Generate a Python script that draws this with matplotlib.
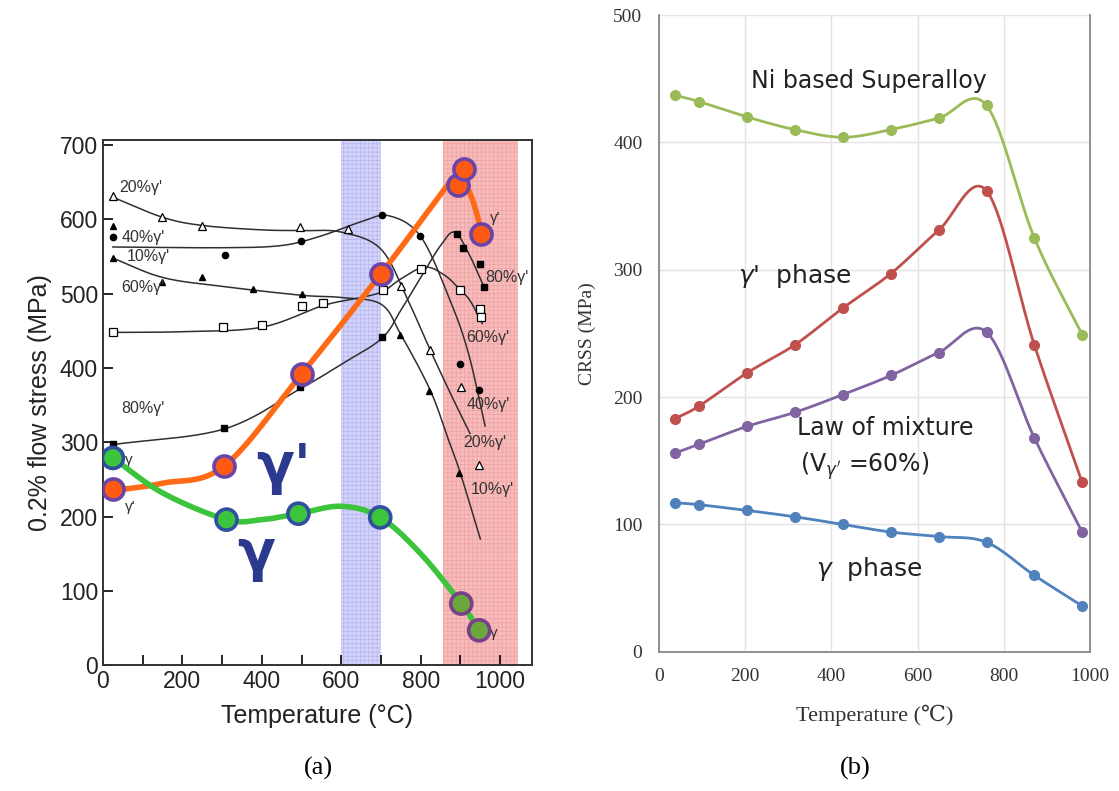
import numpy as np
import matplotlib.pyplot as plt

# ---------- (a) flow stress of gamma/gamma' alloys ----------
# fitted trend lines (knots)
c10_x = [25, 150, 300, 500, 600, 700, 750, 824, 870, 900, 950]
c10_y = [548, 522, 510, 498, 495, 486, 445, 370, 303, 258, 170]
c20_x = [25, 150, 250, 400, 500, 600, 700, 768, 824, 880, 924]
c20_y = [630, 603, 592, 586, 585, 583, 560, 491, 424, 360, 312]
c40_x = [25, 300, 450, 550, 650, 720, 800, 874, 920, 962]
c40_y = [563, 562, 565, 578, 597, 605, 577, 491, 420, 322]
c60_x = [25, 200, 400, 553, 650, 704, 750, 810, 860, 900, 925, 955]
c60_y = [448, 449, 455, 484, 495, 503, 520, 536, 525, 505, 490, 460]
c80_x = [25, 305, 496, 600, 702, 750, 800, 850, 885, 920, 957]
c80_y = [297, 318, 372, 405, 440, 478, 522, 565, 583, 555, 512]

# measured points
p10_x = [25, 25, 148, 250, 377, 501, 748, 822, 897]
p10_y = [591, 548, 516, 523, 507, 500, 444, 369, 259]
p20_x = [25, 149, 249, 496, 617, 751, 824, 902, 947]
p20_y = [632, 603, 591, 590, 587, 511, 424, 374, 269]
p40_x = [25, 307, 499, 702, 798, 898, 947]
p40_y = [577, 552, 571, 606, 578, 406, 370]
p60_x = [25, 303, 401, 500, 553, 704, 801, 899, 948, 951]
p60_y = [448, 455, 458, 483, 487, 505, 533, 505, 479, 469]
p80_x = [25, 305, 496, 702, 891, 906, 950, 960]
p80_y = [298, 319, 374, 442, 580, 561, 540, 509]

# gamma' (orange) and gamma (green) phases
gp_x = [25, 305, 500, 700, 893, 909, 952]
gp_y = [237, 268, 392, 527, 646, 668, 580]
gp_line_x = [25, 150, 305, 500, 700, 820, 880, 915, 940, 952]
gp_line_y = [235, 245, 268, 392, 527, 612, 652, 644, 610, 580]
g_x = [25, 311, 492, 698, 902, 947]
g_y = [279, 196, 204, 199, 83, 47]
g_line_x = [25, 150, 311, 400, 492, 600, 698, 800, 902, 947]
g_line_y = [279, 232, 196, 196, 204, 214, 199, 150, 83, 47]

# ---------- (b) CRSS ----------
temp_b = [37, 93, 204, 315, 427, 538, 649, 760, 871, 982]
alloy = [437, 432, 420, 410, 404, 410, 419, 429, 325, 249]
gprime = [183, 193, 219, 241, 270, 297, 331, 362, 241, 133]
mixture = [156, 163, 177, 188, 202, 217, 235, 251, 168, 94]
gamma = [117, 115.5, 111, 106, 100, 94, 90.5, 86, 60, 36]


def smooth(xs, ys, n=40):
    # Catmull-Rom style bezier through the knots (like Excel smoothed lines)
    x = np.asarray(xs, float)
    y = np.asarray(ys, float)
    px = np.concatenate([[2 * x[0] - x[1]], x, [2 * x[-1] - x[-2]]])
    py = np.concatenate([[2 * y[0] - y[1]], y, [2 * y[-1] - y[-2]]])
    t = np.linspace(0, 1, n)[:, None]
    out = []
    for i in range(1, len(px) - 2):
        p0 = np.array([px[i - 1], py[i - 1]])
        p1 = np.array([px[i], py[i]])
        p2 = np.array([px[i + 1], py[i + 1]])
        p3 = np.array([px[i + 2], py[i + 2]])
        c1 = p1 + (p2 - p0) / 6
        c2 = p2 - (p3 - p1) / 6
        seg = ((1 - t) ** 3) * p1 + 3 * ((1 - t) ** 2) * t * c1 + 3 * (1 - t) * t ** 2 * c2 + t ** 3 * p2
        out.append(seg)
    out = np.vstack(out)
    return out[:, 0], out[:, 1]


plt.rcParams['hatch.linewidth'] = 0.6
fig = plt.figure(figsize=(11.19, 7.91), dpi=100)

# ================= left panel =================
ax = fig.add_axes([0.092, 0.159, 0.3834, 0.664])
sans = ['Liberation Sans', 'DejaVu Sans']

ax.axvspan(600, 700, facecolor='#d4d4fa', edgecolor='#b9b9f2', hatch='++++', lw=0, zorder=0)
ax.axvspan(855, 1045, facecolor='#f8bcbc', edgecolor='#efa5a5', hatch='++++', lw=0, zorder=0)

lc = '#2f2f2f'
for cx, cy in [(c10_x, c10_y), (c20_x, c20_y), (c40_x, c40_y), (c60_x, c60_y), (c80_x, c80_y)]:
    sx, sy = smooth(cx, cy)
    ax.plot(sx, sy, color=lc, lw=1.1, zorder=2)

ax.plot(p10_x, p10_y, '^', color='k', ms=4.5, ls='none', zorder=3)
ax.plot(p20_x, p20_y, '^', mfc='white', mec='k', ms=5.5, mew=0.9, ls='none', zorder=3)
ax.plot(p40_x, p40_y, 'o', color='k', ms=4.5, ls='none', zorder=3)
ax.plot(p60_x, p60_y, 's', mfc='white', mec='k', ms=5.5, mew=0.9, ls='none', zorder=3)
ax.plot(p80_x, p80_y, 's', color='k', ms=4.5, ls='none', zorder=3)

sx, sy = smooth(gp_line_x, gp_line_y)
ax.plot(sx, sy, color='#ff6a16', lw=4, zorder=4, solid_capstyle='round')
sx, sy = smooth(g_line_x, g_line_y)
ax.plot(sx, sy, color='#3cc43c', lw=4, zorder=4, solid_capstyle='round')

ax.scatter(gp_x, gp_y, s=230, c='#ff5a14', edgecolors='#6a44a8', linewidths=2.6, zorder=5)
g_edges = ['#2f4fa0'] * 4 + ['#7a3f8a'] * 2
g_faces = ['#3cc43c'] * 4 + ['#6aa83c'] * 2
ax.scatter(g_x, g_y, s=230, c=g_faces, edgecolors=g_edges, linewidths=2.6, zorder=5)

# curve labels
lab_c = '#333333'
for tx, ty, s in [(40, 643, "20%γ'"), (46, 576, "40%γ'"), (60, 550, "10%γ'"),
                  (46, 509, "60%γ'"), (46, 346, "80%γ'"),
                  (962, 522, "80%γ'"), (915, 441, "60%γ'"), (915, 351, "40%γ'"),
                  (908, 300, "20%γ'"), (925, 236, "10%γ'")]:
    ax.text(tx, ty, s, fontsize=11.5, color=lab_c, va='center', ha='left', family=sans, zorder=6)
ax.text(55, 276, 'γ', fontsize=11, color=lab_c, va='center', family=sans)
ax.text(55, 213, "γ'", fontsize=11, color=lab_c, va='center', family=sans)
ax.text(975, 602, "γ'", fontsize=11, color=lab_c, va='center', family=sans)
ax.text(975, 44, 'γ', fontsize=11, color=lab_c, va='center', family=sans)

ax.text(455, 265, "γ'", fontsize=40, color='#2b3a8f', ha='center', va='center',
        family=['DejaVu Sans'], fontweight='bold')
ax.text(385, 148, 'γ', fontsize=40, color='#2b3a8f', ha='center', va='center',
        family=['DejaVu Sans'], fontweight='bold')

ax.set_xlim(0, 1080)
ax.set_ylim(0, 707)
ax.set_xticks([0, 200, 400, 600, 800, 1000])
ax.set_xticks([100, 300, 500, 700, 900], minor=True)
ax.set_yticks(range(0, 701, 100))
ax.tick_params(direction='in', length=7, width=1.2, labelsize=16.5, top=False, right=False)
ax.tick_params(which='minor', direction='in', length=7, width=1.2)
for lab in ax.get_xticklabels() + ax.get_yticklabels():
    lab.set_family(sans)
    lab.set_color('#222222')
for sp in ax.spines.values():
    sp.set_linewidth(1.4)
    sp.set_color('#333333')
ax.set_xlabel('Temperature (°C)', fontsize=18, family=sans, color='#222222', labelpad=8)
ax.set_ylabel('0.2% flow stress (MPa)', fontsize=18, family=sans, color='#222222', labelpad=6)

# ================= right panel =================
ax2 = fig.add_axes([0.589, 0.176, 0.385, 0.805])
serif = ['Liberation Serif', 'DejaVu Serif']
series = [(alloy, '#9bbb59'), (gprime, '#c0504d'), (mixture, '#8064a2'), (gamma, '#4f81bd')]
for vals, col in series:
    sx, sy = smooth(temp_b, vals)
    ax2.plot(sx, sy, color=col, lw=2, zorder=3)
    ax2.plot(temp_b, vals, 'o', color=col, ms=7, ls='none', zorder=4)

ax2.set_xlim(0, 1000)
ax2.set_ylim(0, 500)
ax2.set_xticks(range(0, 1001, 200))
ax2.set_yticks(range(0, 501, 100))
ax2.grid(True, color='#e3e3e3', lw=1)
ax2.set_axisbelow(True)
ax2.tick_params(length=0, labelsize=14, pad=12, colors='#333333')
for lab in ax2.get_xticklabels() + ax2.get_yticklabels():
    lab.set_family(serif)
for sp in ax2.spines.values():
    sp.set_color('#888888')
    sp.set_linewidth(1.3)
ax2.spines['top'].set_visible(False)

tsans = ['DejaVu Sans']
ax2.text(488, 448, 'Ni based Superalloy', fontsize=17, ha='center', va='center', family=tsans, color='#222222')
ax2.text(316, 295, "$\\gamma$'  phase", fontsize=18, ha='center', va='center', family=tsans, color='#222222')
ax2.text(524, 176, 'Law of mixture', fontsize=17, ha='center', va='center', family=tsans, color='#222222')
ax2.text(477, 146, "(V$_{\\gamma'}$ =60%)", fontsize=17, ha='center', va='center', family=tsans, color='#222222')
ax2.text(488, 65, '$\\gamma$  phase', fontsize=18, ha='center', va='center', family=tsans, color='#222222')

ax2.set_xlabel('Temperature (℃)', fontsize=16, family=serif, color='#333333', labelpad=14)
ax2.set_ylabel('CRSS (MPa)', fontsize=14, family=serif, color='#333333', labelpad=12)

fig.text(318 / 1119, 1 - 768 / 791, '(a)', fontsize=19, family=serif, ha='center', va='center')
fig.text(855 / 1119, 1 - 768 / 791, '(b)', fontsize=19, family=serif, ha='center', va='center')

fig.savefig('out.png', dpi=100)
